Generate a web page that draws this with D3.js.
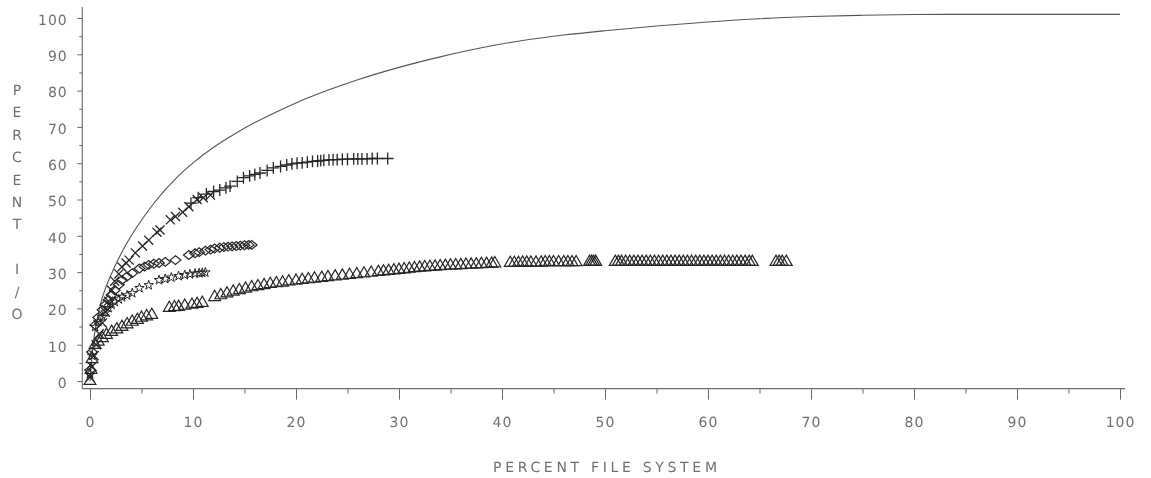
<!DOCTYPE html>
<html><head><meta charset="utf-8">
<script src="https://cdn.jsdelivr.net/npm/d3@7"></script>
<style>
body{margin:0;background:#fff}
svg{will-change:transform}
text{font-family:"DejaVu Sans",sans-serif;fill:#707070;text-rendering:geometricPrecision}
</style>
</head><body>
<svg id="c" width="1151" height="478"></svg>
<script>
// ---- data ----
const xTicks=[0,10,20,30,40,50,60,70,80,90,100];
const yTicks=[0,10,20,30,40,50,60,70,80,90,100];
const xTitle="PERCENT FILE SYSTEM";
const yTitle=["P","E","R","C","E","N","T","","I","/","O"];

const curveX=[0,0.3,0.7,1,1.5,2,3,4,5,6,7,8,9,10,12,14,16,18,20,23,26,30,34,38,42,46,50,55,60,65,70,75,80,85,90,95,100];
const curveY=[0,10,17,21,25.5,29,35,40,44.3,48.2,51.7,54.8,57.6,60.1,64.4,68,71.2,74,76.6,80,83,86.4,89.3,91.8,93.8,95.3,96.5,97.8,98.9,99.8,100.4,100.75,100.95,101,101,101,101];

const timesX=[0,0.2,0.4,0.6,0.9,1.2,1.5,1.8,2.1,2.4,2.8,3.1,3.5,3.8,4.4,5.1,5.7,6.5,6.8,7.8,8.3,9,9.6,10.4,11,11.7];
const timesY=[1,4,7,10,13,16,19,22,25,27.5,29.5,31.4,32.5,33.3,35.3,37.2,38.8,41,41.6,44.4,45.3,46.5,48,50,50.5,51.2];

const plusX=[9.8,10.5,11.3,12,12.6,13.2,13.6,14.3,14.9,15.5,16,16.5,17.2,17.8,18.5,19.1,19.6,20.1,20.6,21.1,21.6,22.1,22.4,22.7,23.2,23.6,24,24.5,25,25.6,26,26.4,26.9,27.4,27.9,28.9];
const plusY=[49,50.5,51.5,52.2,52.6,53.2,53.7,55,56,56.5,56.9,57.3,58,58.7,59.1,59.5,59.8,60,60.1,60.3,60.5,60.6,60.7,60.8,60.9,61,61,61.1,61.1,61.2,61.2,61.2,61.2,61.3,61.3,61.3];

const diamondX=[0,0.2,0.5,0.8,1.2,1.5,1.8,2.1,2.4,2.8,3.1,3.6,4.1,4.8,5.3,5.7,6.2,6.7,7.3,8.3,9.6,10.2,10.6,11.2,11.7,12.1,12.6,13,13.4,13.8,14.2,14.6,15,15.4,15.7];
const diamondY=[3,8,15.4,17.5,19.6,21,22.3,23.7,25,26.5,27.8,28.8,29.7,31,31.5,32,32.3,32.5,32.8,33.3,34.7,35.2,35.5,35.9,36.2,36.5,36.7,36.9,37,37.1,37.2,37.3,37.4,37.5,37.5];

const starX=[0,0.2,0.5,0.8,1.2,1.5,1.8,2.1,2.4,2.8,3.1,3.6,4.1,4.8,5.7,6.7,7.3,7.9,8.6,9.2,9.7,10.2,10.6,10.9,11.2];
const starY=[2,7,14.9,16.3,17.6,18.9,20.1,21,21.8,22.5,23.1,23.6,24.2,25.6,26.4,27.8,28.1,28.5,28.9,29.2,29.4,29.6,29.7,29.8,29.9];

const triX=[0,0.1,0.2,0.5,0.8,1.2,1.6,2.1,2.6,3.1,3.6,4.1,4.6,5,5.5,6,7.7,8.2,8.6,9.2,9.9,10.4,10.9,
 12.1,12.7,13.3,13.9,14.5,15.1,15.7,16.3,16.9,17.5,18.1,18.7,19.3,20,20.6,21.2,21.8,22.5,23.1,23.8,24.5,25.2,25.9,26.6,27.3,
 28,28.5,29,29.5,30,30.5,31,31.5,32,32.5,33,33.5,34,34.5,35,35.5,36,36.5,37,37.5,38,38.5,39,39.3,
 40.8,41.2,41.6,42,42.4,42.8,43.3,43.8,44.2,44.6,45,45.5,46,46.4,46.8,47.2,
 48.5,48.7,48.9,49.1,
 51,51.3,51.6,52,52.4,52.8,53.2,53.6,54,54.4,54.8,55.2,55.6,56,56.4,56.8,57.2,57.6,58,58.4,58.8,59.2,59.6,60,60.4,60.8,61.2,61.6,62,62.4,62.8,63.2,63.6,64,64.3,
 66.6,66.9,67.2,67.6];
const triY=[0,3,6,9.9,10.8,11.8,12.7,13.5,14.2,14.9,15.6,16.3,16.8,17.4,17.8,18.2,20.1,20.3,20.4,20.7,21,21.2,21.5,
 23.1,23.6,24.1,24.6,25,25.4,25.8,26.1,26.4,26.7,26.9,27.1,27.4,27.6,27.8,28,28.2,28.4,28.6,28.8,29,29.2,29.4,29.6,29.8,
 30,30.15,30.3,30.45,30.6,30.75,30.9,31.05,31.2,31.3,31.4,31.5,31.6,31.7,31.8,31.85,31.9,32,32.05,32.1,32.2,32.25,32.3,32.4,
 32.5,32.5,32.5,32.6,32.6,32.6,32.6,32.6,32.7,32.7,32.7,32.7,32.7,32.7,32.7,32.7,
 32.8,32.8,32.8,32.8,
 32.8,32.8,32.8,32.8,32.8,32.8,32.8,32.8,32.8,32.8,32.8,32.8,32.8,32.8,32.8,32.8,32.8,32.8,32.8,32.8,32.8,32.8,32.8,32.8,32.8,32.8,32.8,32.8,32.8,32.8,32.8,32.8,32.8,32.8,32.8,
 32.8,32.8,32.8,32.8];

// ---- chart ----
const svg=d3.select("#c");
const x=d3.scaleLinear().domain([0,100]).range([90,1120]);
const y=d3.scaleLinear().domain([0,100]).range([381,18]);
const ink="#262626", axisInk="#6a6a6a";
const axX=x(-0.75), axY=y(-2.1);

// axes lines
svg.append("line").attr("x1",axX).attr("x2",axX).attr("y1",y(103)).attr("y2",axY)
  .attr("stroke",axisInk).attr("stroke-width",1.1);
svg.append("line").attr("x1",axX).attr("x2",x(100.5)).attr("y1",axY).attr("y2",axY)
  .attr("stroke",axisInk).attr("stroke-width",1.1);

// y axis
const gy=svg.append("g").attr("transform",`translate(${axX},0)`)
  .call(d3.axisLeft(y).tickValues(yTicks).tickSize(5).tickPadding(9.5).tickFormat(d3.format("d")));
gy.select(".domain").remove();
gy.selectAll(".tick line").attr("stroke",axisInk);
gy.selectAll(".tick text").attr("font-size",14).attr("letter-spacing",1).attr("dy","0.45em")
  .style("font-family","DejaVu Sans").attr("fill","#707070");
const gy2=svg.append("g").attr("transform",`translate(${axX},0)`)
  .call(d3.axisLeft(y).tickValues(d3.range(5,100,10)).tickSize(3).tickFormat(""));
gy2.select(".domain").remove();
gy2.selectAll(".tick line").attr("stroke",axisInk);

// x axis
const gx=svg.append("g").attr("transform",`translate(0,${axY})`)
  .call(d3.axisBottom(x).tickValues(xTicks).tickSize(11).tickPadding(17).tickFormat(d3.format("d")));
gx.select(".domain").remove();
gx.selectAll(".tick line").attr("stroke",axisInk);
gx.selectAll(".tick text").attr("font-size",14).attr("letter-spacing",1)
  .style("font-family","DejaVu Sans").attr("fill","#707070");
const gx2=svg.append("g").attr("transform",`translate(0,${axY})`)
  .call(d3.axisBottom(x).tickValues(d3.range(5,100,10)).tickSize(5).tickFormat(""));
gx2.select(".domain").remove();
gx2.selectAll(".tick line").attr("stroke",axisInk);

// titles
svg.append("text").attr("x",605).attr("y",472).attr("text-anchor","middle")
  .attr("font-size",14).attr("textLength",224).attr("lengthAdjust","spacing").text(xTitle);
svg.append("g").selectAll("text").data(yTitle).join("text")
  .attr("x",17).attr("y",(d,i)=>95+i*22.4).attr("text-anchor","middle")
  .attr("font-size",14).text(d=>d);

// curve
const line=d3.line().x(d=>x(d[0])).y(d=>y(d[1])).curve(d3.curveMonotoneX);
svg.append("path").datum(d3.zip(curveX,curveY)).attr("d",line)
  .attr("fill","none").attr("stroke","#555").attr("stroke-width",1.1);

// marker helpers
const wideDiamond={draw(ctx,size){const a=Math.sqrt(size)*0.6,b=a*0.82;
  ctx.moveTo(-a,0);ctx.lineTo(0,-b);ctx.lineTo(a,0);ctx.lineTo(0,b);ctx.closePath();}};
function series(xs,ys,type,size,sw){
  svg.append("g").selectAll("path").data(d3.zip(xs,ys)).join("path")
    .attr("transform",d=>`translate(${x(d[0])},${y(d[1])})`)
    .attr("d",d3.symbol().type(type).size(size))
    .attr("fill","none").attr("stroke",ink).attr("stroke-width",sw);
}
series(triX,triY,d3.symbolTriangle2,100,1.2);
series(starX,starY,d3.symbolStar,28,1.0);
series(diamondX,diamondY,wideDiamond,80,1.2);
series(timesX,timesY,d3.symbolTimes,55,1.3);
series(plusX,plusY,d3.symbolPlus,48,1.3);
</script>
</body></html>
